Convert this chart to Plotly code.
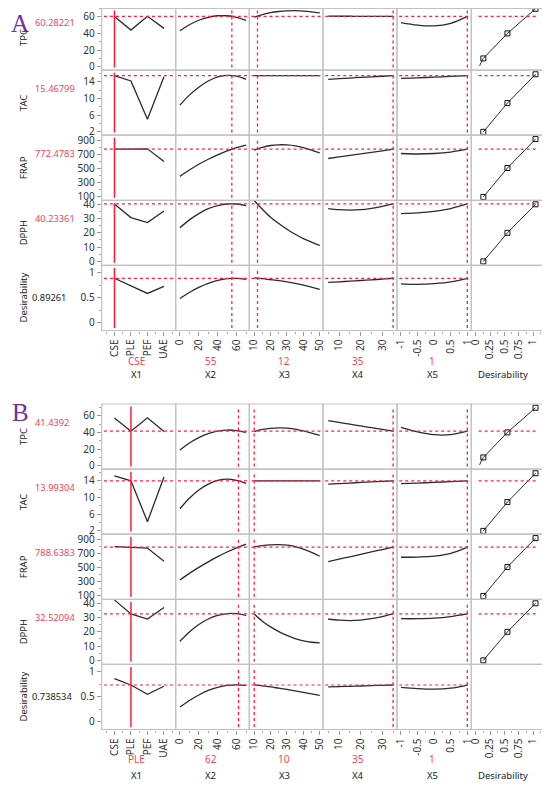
import plotly.graph_objects as go

# factor levels and the grids the profile traces are read on
x1_levels = ["CSE", "PLE", "PEF", "UAE"]
x2_grid = [0, 10, 20, 30, 40, 50, 60, 70]
x3_grid = [10, 15, 20, 25, 30, 35, 40, 45, 50]
x4_grid = [5, 10, 15, 20, 25, 30, 35]
x5_grid = [-1, -0.5, 0, 0.5, 1]

responses = ["TPC", "TAC", "FRAP", "DPPH", "Desirability"]
factors = ["X1", "X2", "X3", "X4", "X5", "Desirability"]

# ---- panel A (CSE optimum) ----
a_settings = ["CSE", 55, 12, 35, 1]
a_current = [60.28221, 15.46799, 772.4783, 40.23361, 0.89261]
a_tpc = [[60.28, 44.0, 60.5, 46.0],
         [43.1, 50.3, 55.7, 59.3, 61.1, 61.1, 59.3, 55.7],
         [59.5, 62.5, 64.8, 66.2, 67.0, 67.2, 66.7, 65.8, 64.5],
         [60.6, 60.55, 60.5, 60.45, 60.4, 60.35, 60.28],
         [53.0, 50.0, 49.0, 52.0, 60.28]]
a_tac = [[15.47, 14.2, 5.0, 15.2],
         [8.4, 10.8, 12.7, 14.2, 15.2, 15.55, 15.35, 14.6],
         [15.47, 15.47, 15.47, 15.47, 15.47, 15.47, 15.47, 15.47, 15.47],
         [14.6, 14.75, 14.9, 15.05, 15.2, 15.33, 15.47],
         [14.8, 14.95, 15.1, 15.28, 15.47]]
a_frap = [[772.5, 770, 778, 600],
          [390, 479, 560, 631, 694, 748, 794, 830],
          [760, 800, 825, 835, 833, 820, 795, 760, 720],
          [642, 664, 686, 707, 729, 750, 772.5],
          [712, 705, 712, 733, 772.5]]
a_dpph = [[40.23, 30.7, 27.2, 35.3],
          [23.6, 29.1, 33.5, 36.9, 39.1, 40.2, 40.2, 39.1],
          [42.5, 36.5, 31.0, 26.5, 22.5, 19.0, 16.0, 13.5, 11.2],
          [37.0, 36.2, 35.9, 36.2, 37.2, 38.6, 40.23],
          [33.5, 34.0, 35.0, 37.0, 40.23]]
a_des = [[0.893, 0.74, 0.59, 0.73],
         [0.49, 0.61, 0.71, 0.79, 0.85, 0.885, 0.89, 0.87],
         [0.90, 0.885, 0.865, 0.845, 0.82, 0.79, 0.755, 0.715, 0.67],
         [0.81, 0.822, 0.835, 0.848, 0.862, 0.877, 0.893],
         [0.78, 0.77, 0.785, 0.82, 0.893]]

# ---- panel B (PLE optimum) ----
b_settings = ["PLE", 62, 10, 35, 1]
b_current = [41.4392, 13.99304, 788.6383, 32.52094, 0.738534]
b_tpc = [[57.2, 41.44, 57.5, 41.2],
         [19.0, 27.3, 33.8, 38.5, 41.5, 42.8, 42.2, 40.0],
         [41.0, 43.5, 44.8, 45.3, 45.0, 43.8, 41.7, 39.2, 36.4],
         [54.0, 51.9, 49.8, 47.7, 45.6, 43.5, 41.44],
         [46.0, 40.5, 37.2, 37.3, 41.44]]
b_tac = [[15.2, 13.99, 4.2, 14.9],
         [7.3, 9.8, 11.8, 13.2, 14.1, 14.4, 14.1, 13.4],
         [13.99, 13.99, 13.99, 13.99, 13.99, 13.99, 13.99, 13.99, 13.99],
         [13.2, 13.33, 13.46, 13.6, 13.73, 13.86, 13.99],
         [13.3, 13.45, 13.62, 13.8, 13.99]]
b_frap = [[795, 788.6, 775, 590],
          [326, 418, 503, 581, 653, 719, 778, 830],
          [790, 810, 820, 822, 815, 795, 760, 715, 660],
          [584, 618, 652, 686, 720, 754, 788.6],
          [645, 648, 660, 700, 788.6]]
b_dpph = [[42.4, 32.52, 29.0, 37.0],
          [13.4, 19.9, 25.1, 29.0, 31.5, 32.8, 32.8, 31.5],
          [32.5, 27.5, 23.5, 20.2, 17.5, 15.3, 13.7, 12.7, 12.3],
          [29.0, 28.2, 27.9, 28.2, 29.2, 30.7, 32.52],
          [29.2, 29.2, 29.6, 30.7, 32.52]]
b_des = [[0.867, 0.7385, 0.553, 0.713],
         [0.30, 0.43, 0.54, 0.63, 0.69, 0.73, 0.74, 0.73],
         [0.74, 0.72, 0.70, 0.675, 0.65, 0.62, 0.59, 0.56, 0.53],
         [0.70, 0.706, 0.713, 0.719, 0.726, 0.732, 0.7385],
         [0.69, 0.665, 0.655, 0.675, 0.7385]]

# desirability functions (same in both panels)
des_x = [0.13, 0.55, 1.04]
des_tpc = [10, 40, 69.5]
des_tac = [2.0, 8.9, 15.8]
des_frap = [100, 508, 915]
des_dpph = [0, 20, 40]
tpc_tail_x = [0.065, 0.09, 0.13]
tpc_tail_y = [1.0, 5.0, 10]

# ---- layout geometry (pixels of the target picture) ----
# the page body adds an 8px margin, so the figure is drawn 8px smaller
OFF = 8
W, H = 550 - OFF, 785 - OFF
col_px = [101.7, 175.7, 249.3, 323, 397, 471.3, 544.7]
row_h = 65.1
FONT = "Noto Sans, sans-serif"
RED = "#ff1f3d"
TXT_RED = "#ee4660"
CURVE = "#2b2b2b"


def fx(px):
    return (px - OFF) / W


def fy(py):
    return min(1.0, max(0.0, 1 - (py - OFF) / H))


x_ranges = [[-0.77, 3.71], [-4.5, 73.5], [7, 52], [2.6, 36.8], [-1.12, 1.12], [-0.08, 1.2]]
x_tickvals = [[0, 1, 2, 3], [0, 20, 40, 60], [10, 20, 30, 40, 50], [10, 20, 30],
              [-1, -0.5, 0, 0.5, 1], [0, 0.25, 0.5, 0.75, 1]]
x_ticktext = [x1_levels, ["0", "20", "40", "60"], ["10", "20", "30", "40", "50"],
              ["10", "20", "30"], ["-1", "-0.5", "0", "0.5", "1"],
              ["0", "0.25", "0.5", "0.75", "1"]]
x_minor = [(0.5, 1), (0, 10), (0, 5), (0, 5), (0, 0.25), (0, 0.125)]

y_ranges = [[-4, 74], [1.2, 16.8], [53, 970], [-2.8, 42.8], [-0.15, 1.15]]
y_tickvals = [[0, 20, 40, 60], [2, 6, 10, 14], [100, 300, 500, 700, 900],
              [0, 10, 20, 30, 40], [0, 0.5, 1]]
y_ticktext = [["0", "20", "40", "60"], ["2", "6", "10", "14"],
              ["100", "300", "500", "700", "900"], ["0", "10", "20", "30", "40"],
              ["0", "0.5", "1"]]
y_minor = [(0, 10), (0, 2), (0, 100), (0, 5), (0, 0.25)]

grids = [list(range(len(x1_levels))), x2_grid, x3_grid, x4_grid, x5_grid]
des_rows = [des_tpc, des_tac, des_frap, des_dpph]

panels = [
    ("A", 5, 24, 361, 374.5, a_settings, a_current, [a_tpc, a_tac, a_frap, a_dpph, a_des]),
    ("B", 404, 413, 759, 775, b_settings, b_current, [b_tpc, b_tac, b_frap, b_dpph, b_des]),
]


def ax_name(kind, n):
    return kind + "axis" + ("" if n == 1 else str(n))


def ax_ref(kind, n):
    return kind + ("" if n == 1 else str(n))


def label(text, x, y, size=9.5, color="#222", **kw):
    d = dict(text=text, x=fx(x), y=fy(y), xref="paper", yref="paper", showarrow=False,
             xanchor="center", yanchor="middle", font=dict(family=FONT, size=size, color=color))
    d.update(kw)
    return d


fig = go.Figure()
shapes, annotations = [], []
layout_axes = {}

for p, (letter, top, letter_y, set_y, lab_y, settings, current, profiles) in enumerate(panels):
    xids = [p * 6 + c + 1 for c in range(6)]
    yids = [p * 5 + r + 1 for r in range(5)]

    # axes
    for c in range(6):
        layout_axes[ax_name("x", xids[c])] = dict(
            domain=[fx(col_px[c]), fx(col_px[c + 1])], range=x_ranges[c],
            anchor=ax_ref("y", yids[4]), showgrid=False, zeroline=False, showline=False,
            ticks="outside", ticklen=4, tickcolor="#999", tickangle=-90,
            tickvals=x_tickvals[c], ticktext=x_ticktext[c],
            tickfont=dict(family=FONT, size=10, color="#333"), automargin=False,
            minor=dict(ticks="outside", ticklen=2, tickcolor="#aaa",
                       tick0=x_minor[c][0], dtick=x_minor[c][1]),
        )
    for r in range(5):
        y_top = top + r * row_h
        lo, hi = y_ranges[r]
        cut = max(0.0, OFF - y_top)  # part of the cell hidden above the page top
        hi = hi - (hi - lo) * cut / row_h
        layout_axes[ax_name("y", yids[r])] = dict(
            domain=[fy(y_top + row_h), fy(y_top)], range=[lo, hi],
            anchor=ax_ref("x", xids[0]), showgrid=False, zeroline=False, showline=False,
            ticks="outside", ticklen=4, tickcolor="#999",
            tickvals=y_tickvals[r], ticktext=y_ticktext[r],
            tickfont=dict(family=FONT, size=10, color="#333"), automargin=False,
            minor=dict(ticks="outside", ticklen=2, tickcolor="#aaa",
                       tick0=y_minor[r][0], dtick=y_minor[r][1]),
        )

    # profile curves + crosshair lines
    for r in range(5):
        for c in range(5):
            fig.add_trace(go.Scatter(
                x=grids[c], y=profiles[r][c], mode="lines",
                line=dict(color=CURVE, width=1.3, shape="linear" if c == 0 else "spline"),
                xaxis=ax_ref("x", xids[c]), yaxis=ax_ref("y", yids[r]),
                hoverinfo="skip", showlegend=False))
            shapes.append(dict(
                type="line", xref=ax_ref("x", xids[c]) + " domain", yref=ax_ref("y", yids[r]),
                x0=0.03, x1=0.97, y0=current[r], y1=current[r],
                line=dict(color=RED, width=1.2, dash="dot")))
            xv = x1_levels.index(settings[0]) if c == 0 else settings[c]
            shapes.append(dict(
                type="line", xref=ax_ref("x", xids[c]), yref=ax_ref("y", yids[r]) + " domain",
                x0=xv, x1=xv, y0=0.04, y1=0.96,
                line=dict(color=RED, width=1.5 if c == 0 else 1.3,
                          dash="solid" if c == 0 else "dot")))

    # desirability functions
    for r in range(4):
        xr, yr = ax_ref("x", xids[5]), ax_ref("y", yids[r])
        if r == 0:
            fig.add_trace(go.Scatter(x=tpc_tail_x, y=tpc_tail_y, mode="lines",
                                     line=dict(color=CURVE, width=1, shape="spline"),
                                     xaxis=xr, yaxis=yr, hoverinfo="skip", showlegend=False))
        fig.add_trace(go.Scatter(
            x=des_x, y=des_rows[r], mode="lines+markers",
            line=dict(color=CURVE, width=1),
            marker=dict(symbol="square-open", size=5, color="#111", line=dict(width=1)),
            xaxis=xr, yaxis=yr, hoverinfo="skip", showlegend=False))
        shapes.append(dict(
            type="line", xref=xr + " domain", yref=yr, x0=0.1, x1=0.91,
            y0=current[r], y1=current[r], line=dict(color=RED, width=1.2, dash="dot")))

    # cell borders
    for r in range(5):
        for c in range(6):
            y0 = top + r * row_h
            shapes.append(dict(
                type="rect", xref="paper", yref="paper",
                x0=fx(col_px[c]), x1=fx(col_px[c + 1]),
                y0=fy(y0 + row_h), y1=fy(y0) - (0.5 / H if fy(y0) >= 1 else 0),
                line=dict(color="#c2c2c2", width=1.2)))

    # panel letter
    annotations.append(dict(
        text=letter, x=fx(20), y=fy(letter_y), xref="paper", yref="paper",
        xanchor="center", yanchor="middle", showarrow=False,
        font=dict(family="Liberation Serif, serif", size=25, color="#7030a0")))

    # response names and current values
    for r in range(5):
        y_top = top + r * row_h
        annotations.append(label(responses[r], 23.5, y_top + row_h / 2, textangle=-90))
        last = r == 4
        annotations.append(label(
            str(current[r]), 30 if last else 32.5, y_top + (row_h / 2 if last else 18),
            size=9.3, color="#222" if last else TXT_RED, xanchor="left"))

    # factor settings and factor names under the axes
    for c in range(6):
        cx = (col_px[c] + col_px[c + 1]) / 2 - 2
        if c < 5:
            annotations.append(label(str(settings[c]), cx, set_y, size=10, color=TXT_RED))
        annotations.append(label(factors[c], cx - (3 if c == 5 else 0), lab_y))

fig.update_layout(
    width=W, height=H, margin=dict(l=0, r=0, t=0, b=0),
    paper_bgcolor="white", plot_bgcolor="white",
    shapes=shapes, annotations=annotations, **layout_axes)

fig.write_html("out.html")
